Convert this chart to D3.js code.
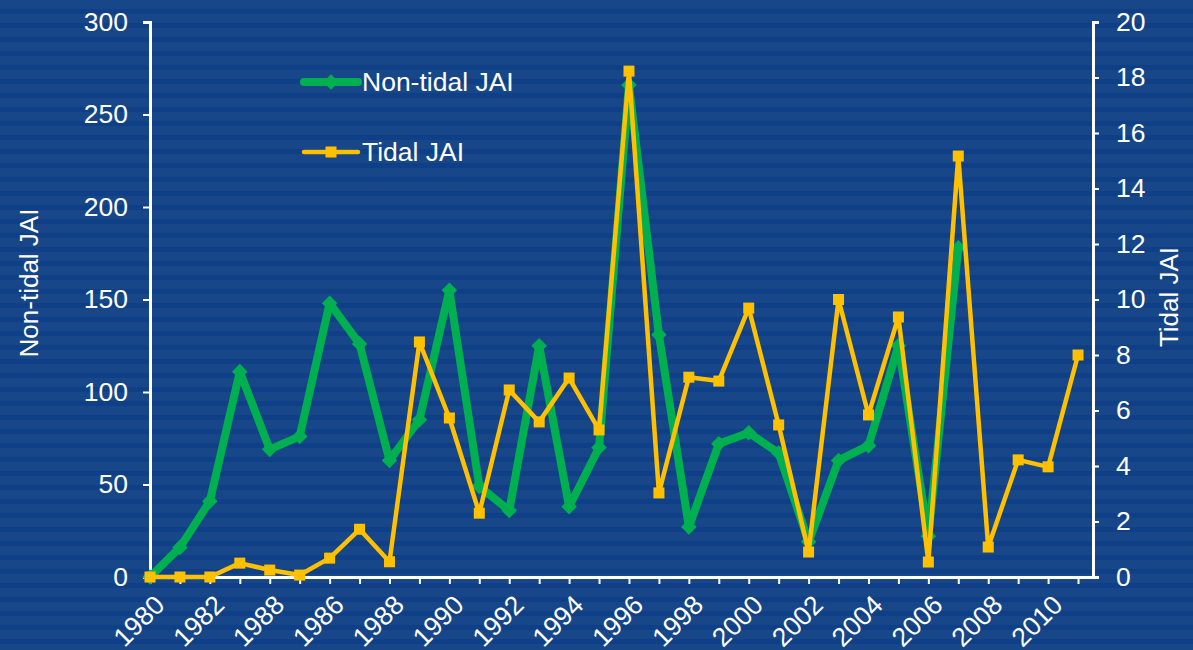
<!DOCTYPE html>
<html>
<head>
<meta charset="utf-8">
<script src="https://cdn.jsdelivr.net/npm/d3@7"></script>
<style>
  html, body { margin: 0; padding: 0; background: #15458a; overflow: hidden; }
  svg text { font-family: "Liberation Sans", Arial, sans-serif; fill: #fff; }
</style>
</head>
<body>
<div class="chart"></div>
<script>
var width = 1193, height = 650;

// data
var years = [1980,1981,1982,1983,1984,1985,1986,1987,1988,1989,1990,1991,1992,1993,1994,1995,
             1996,1997,1998,1999,2000,2001,2002,2003,2004,2005,2006,2007,2008,2009,2010,2011];
// labels as printed under the even years (the original repeats "1988")
var tickLabels = ["1980","1982","1988","1986","1988","1990","1992","1994","1996","1998",
                  "2000","2002","2004","2006","2008","2010"];
var nonTidal = [0,16,41,111,69,76,148,126,63,85,155,49,36,125,38,70,
                266,131,27,72,78,67,19,63,71,125,22,178];
var tidal = [0,0,0,0.5,0.25,0.07,0.68,1.72,0.55,8.47,5.73,2.3,6.74,5.59,7.17,5.3,
             18.23,3.03,7.2,7.06,9.69,5.48,0.9,10.0,5.84,9.37,0.54,15.17,1.08,4.22,3.97,8.0];
var leftTicks = [0,50,100,150,200,250,300];
var rightTicks = [0,2,4,6,8,10,12,14,16,18,20];

var svg = d3.select(".chart").append("svg").attr("width", width).attr("height", height);

// striped background
var defs = svg.append("defs");
var pat = defs.append("pattern").attr("id", "stripes").attr("patternUnits", "userSpaceOnUse")
  .attr("width", 20).attr("height", 14);
pat.append("rect").attr("width", 20).attr("height", 14).attr("fill", "#174789");
pat.append("rect").attr("y", 9).attr("width", 20).attr("height", 5).attr("fill", "#0e3f87");
svg.append("rect").attr("width", width).attr("height", height).attr("fill", "url(#stripes)");

var x = d3.scaleLinear().domain([1980, 2011.5]).range([150, 1093]);
var yL = d3.scaleLinear().domain([0, 300]).range([577, 22]);
var yR = d3.scaleLinear().domain([0, 20]).range([577, 22]);

function styleAxis(g) {
  g.select(".domain").attr("stroke", "#fff").attr("stroke-width", 3);
  g.selectAll(".tick line").attr("stroke", "#fff").attr("stroke-width", 2);
  g.selectAll(".tick text").style("font-size", "26.5px").attr("fill", "#fff");
}

var gx = svg.append("g").attr("transform", "translate(0,577)")
  .call(d3.axisBottom(x).tickValues(years).tickSize(7).tickSizeOuter(0)
    .tickFormat(function(d, i) { return i % 2 === 0 ? tickLabels[i / 2] : ""; }));
styleAxis(gx);
gx.selectAll(".tick text")
  .attr("text-anchor", "end")
  .attr("transform", "translate(9,23) rotate(-45)")
  .attr("dy", "0.35em").attr("y", 0).attr("x", 0);

var gl = svg.append("g").attr("transform", "translate(150,0)")
  .call(d3.axisLeft(yL).tickValues(leftTicks).tickSize(7).tickSizeOuter(7).tickPadding(15));
styleAxis(gl);

var gr = svg.append("g").attr("transform", "translate(1093,0)")
  .call(d3.axisRight(yR).tickValues(rightTicks).tickSize(6).tickSizeOuter(6).tickPadding(17));
styleAxis(gr);

// axis titles
svg.append("text").attr("transform", "translate(38,283) rotate(-90)")
  .attr("text-anchor", "middle").style("font-size", "26px").text("Non-tidal JAI");
svg.append("text").attr("transform", "translate(1178,297) rotate(-90)")
  .attr("text-anchor", "middle").style("font-size", "26px").text("Tidal JAI");

var green = "#00b050", yellow = "#ffc000";

// non-tidal series
var ntData = nonTidal.map(function(v, i) { return {year: years[i], v: v}; });
svg.append("path").datum(ntData)
  .attr("fill", "none").attr("stroke", green).attr("stroke-width", 8).attr("stroke-linejoin", "round")
  .attr("d", d3.line().x(function(d) { return x(d.year); }).y(function(d) { return yL(d.v); }));
svg.append("g").selectAll("path").data(ntData).enter().append("path")
  .attr("transform", function(d) { return "translate(" + x(d.year) + "," + yL(d.v) + ") rotate(45)"; })
  .attr("d", "M-5.5,-5.5H5.5V5.5H-5.5Z").attr("fill", green);

// tidal series
var tData = tidal.map(function(v, i) { return {year: years[i], v: v}; });
svg.append("path").datum(tData)
  .attr("fill", "none").attr("stroke", yellow).attr("stroke-width", 4.5).attr("stroke-linejoin", "round")
  .attr("d", d3.line().x(function(d) { return x(d.year); }).y(function(d) { return yR(d.v); }));
svg.append("g").selectAll("rect").data(tData).enter().append("rect")
  .attr("x", function(d) { return x(d.year) - 5.5; }).attr("y", function(d) { return yR(d.v) - 5.5; })
  .attr("width", 11).attr("height", 11).attr("fill", yellow);

// legend
var legend = [{name: "Non-tidal JAI", color: green, w: 8, y: 82, shape: "diamond"},
              {name: "Tidal JAI", color: yellow, w: 4.5, y: 152, shape: "square"}];
var lg = svg.append("g").selectAll("g").data(legend).enter().append("g");
lg.append("line").attr("x1", 304).attr("x2", 358).attr("y1", function(d) { return d.y; })
  .attr("y2", function(d) { return d.y; }).attr("stroke", function(d) { return d.color; })
  .attr("stroke-width", function(d) { return d.w; }).attr("stroke-linecap", "round");
lg.append("path")
  .attr("transform", function(d) { return "translate(331," + d.y + ")" + (d.shape === "diamond" ? " rotate(45)" : ""); })
  .attr("d", "M-5.5,-5.5H5.5V5.5H-5.5Z").attr("fill", function(d) { return d.color; });
lg.append("text").attr("x", 362).attr("y", function(d) { return d.y; }).attr("dy", "0.35em")
  .style("font-size", "26.5px").text(function(d) { return d.name; });
</script>
</body>
</html>
